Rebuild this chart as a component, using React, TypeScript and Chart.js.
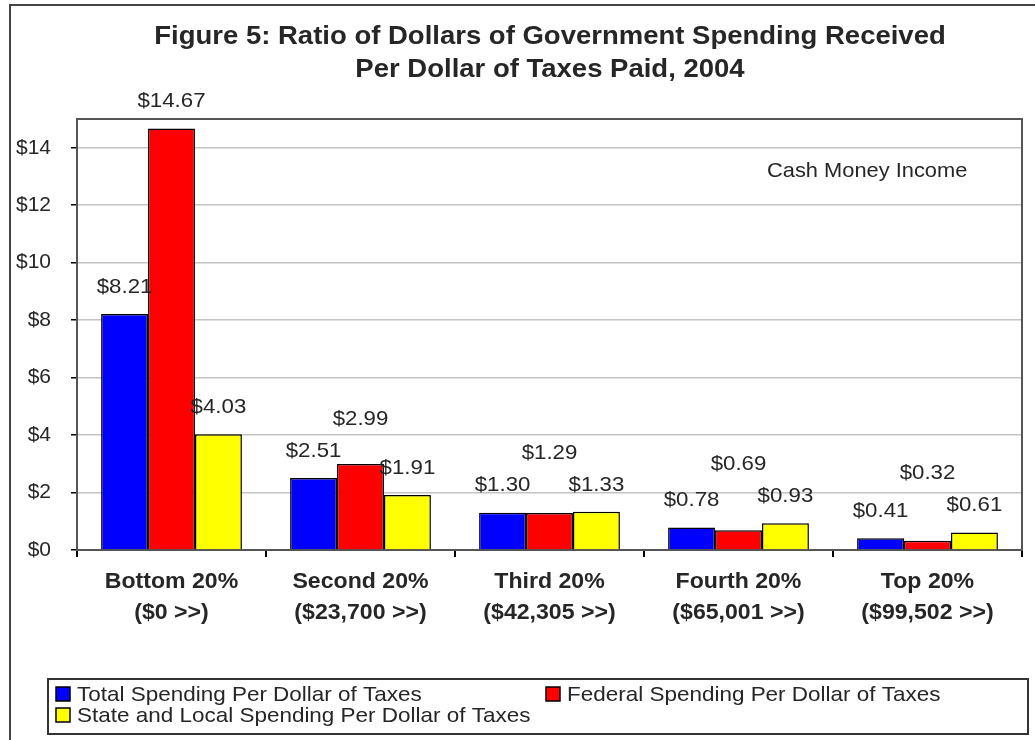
import { useRef, useEffect } from 'react'
import { Chart, registerables } from 'chart.js'
import type { ChartOptions, Plugin } from 'chart.js'

Chart.register(...registerables)

const categories = [
  ['Bottom 20%', '($0 >>)'],
  ['Second 20%', '($23,700 >>)'],
  ['Third 20%', '($42,305 >>)'],
  ['Fourth 20%', '($65,001 >>)'],
  ['Top 20%', '($99,502 >>)'],
]
const seriesNames = [
  'Total Spending Per Dollar of Taxes',
  'Federal Spending Per Dollar of Taxes',
  'State and Local Spending Per Dollar of Taxes',
]
const totalSpending = [8.21, 2.51, 1.3, 0.78, 0.41]
const federalSpending = [14.67, 2.99, 1.29, 0.69, 0.32]
const stateLocalSpending = [4.03, 1.91, 1.33, 0.93, 0.61]
const yTicks = [0, 2, 4, 6, 8, 10, 12, 14]

const titleLines = [
  'Figure 5: Ratio of Dollars of Government Spending Received',
  'Per Dollar of Taxes Paid, 2004',
]
const noteText = 'Cash Money Income'

const FONT = '"Liberation Sans", Arial, sans-serif'
const TEXT = '#262626'

// texte un peu étiré en largeur, comme l'image d'origine
function drawText(
  ctx: CanvasRenderingContext2D,
  text: string,
  x: number,
  y: number,
  font: string,
  align: CanvasTextAlign,
  sx: number,
) {
  ctx.save()
  ctx.font = font
  ctx.textAlign = align
  ctx.textBaseline = 'middle'
  ctx.translate(x, y)
  ctx.scale(sx, 1)
  ctx.fillText(text, 0, 0)
  ctx.restore()
}

const decorPlugin: Plugin<'bar'> = {
  id: 'decor',
  beforeDraw(chart) {
    const { ctx, width, height } = chart
    ctx.save()
    ctx.fillStyle = '#fff'
    ctx.fillRect(0, 0, width, height)
    ctx.strokeStyle = '#444'
    ctx.lineWidth = 2
    ctx.beginPath()
    ctx.moveTo(10, height)
    ctx.lineTo(10, 5)
    ctx.lineTo(width, 5)
    ctx.stroke()
    ctx.restore()
  },
  beforeDatasetsDraw(chart) {
    const { ctx, chartArea: a } = chart
    ctx.save()
    ctx.strokeStyle = '#555'
    ctx.lineWidth = 2
    ctx.strokeRect(a.left, a.top, a.right - a.left, a.bottom - a.top)
    ctx.restore()
  },
  afterDraw(chart) {
    const { ctx } = chart
    ctx.save()
    ctx.fillStyle = TEXT

    // titre
    const titleFont = `bold 25px ${FONT}`
    drawText(ctx, titleLines[0], 550, 37, titleFont, 'center', 1.1)
    drawText(ctx, titleLines[1], 550, 70, titleFont, 'center', 1.1)

    // note
    drawText(ctx, noteText, 767, 171, `21px ${FONT}`, 'left', 1.04)

    // catégories
    const xs = chart.scales.x
    categories.forEach((lines, i) => {
      const x = xs.getPixelForValue(i)
      lines.forEach((t, k) => {
        drawText(ctx, t, x, 582 + k * 31, `bold 22px ${FONT}`, 'center', 1.05)
      })
    })

    // étiquettes de valeurs
    const m0 = chart.getDatasetMeta(0).data
    const m1 = chart.getDatasetMeta(1).data
    const m2 = chart.getDatasetMeta(2).data
    m0.forEach((_, i) => {
      const y0 = m0[i].y - 27
      const y2 = m2[i].y - 27
      const y1 = Math.min(m1[i].y - 27, Math.min(y0, y2) - 32)
      const ys = [y0, y1, y2]
      ;[m0, m1, m2].forEach((m, d) => {
        const v = chart.data.datasets[d].data[i] as number
        drawText(ctx, '$' + v.toFixed(2), m[i].x, ys[d], `21px ${FONT}`, 'center', 1.06)
      })
    })

    // légende
    ctx.strokeStyle = '#333'
    ctx.lineWidth = 2
    ctx.strokeRect(48, 679, 980, 55)
    const pos = [
      [56, 694],
      [546, 694],
      [56, 715],
    ]
    chart.data.datasets.forEach((ds, d) => {
      const [x, y] = pos[d]
      ctx.fillStyle = ds.backgroundColor as string
      ctx.fillRect(x, y - 7, 14, 14)
      ctx.strokeStyle = '#000'
      ctx.lineWidth = 1.5
      ctx.strokeRect(x, y - 7, 14, 14)
      ctx.fillStyle = TEXT
      drawText(ctx, ds.label as string, x + 21, y + 1, `21px ${FONT}`, 'left', 1.07)
    })
    ctx.restore()
  },
}

export default function App() {
  const chartRef = useRef<HTMLCanvasElement>(null)
  const chartInstance = useRef<Chart | null>(null)

  useEffect(() => {
    if (!chartRef.current) return
    if (chartInstance.current) chartInstance.current.destroy()
    const ctx = chartRef.current.getContext('2d')
    if (!ctx) return

    const bar = { borderColor: '#000', borderWidth: 1.5, barPercentage: 1, categoryPercentage: 0.745 }

    const options: ChartOptions<'bar'> = {
      responsive: true,
      maintainAspectRatio: false,
      animation: false,
      layout: { padding: { top: 119, right: 13, left: 0, bottom: 0 } },
      plugins: {
        legend: { display: false },
        title: { display: false },
        tooltip: { enabled: false },
      },
      scales: {
        x: {
          afterFit: (s) => {
            s.height = 190
          },
          grid: {
            offset: true,
            drawOnChartArea: false,
            tickLength: 7,
            tickColor: '#000',
            lineWidth: 2,
          },
          border: { color: '#000', width: 2 },
          ticks: { display: false },
        },
        y: {
          min: 0,
          max: 15,
          afterFit: (s) => {
            s.width = 77
          },
          afterBuildTicks: (s) => {
            s.ticks = yTicks.map((v) => ({ value: v }))
          },
          grid: {
            color: '#c4c4c4',
            lineWidth: 1.5,
            tickColor: '#000',
            tickLength: 6,
          },
          border: { color: '#000', width: 2 },
          ticks: {
            color: TEXT,
            padding: 20,
            font: { family: FONT, size: 21 },
            callback: (v) => '$' + v,
          },
        },
      },
    }

    chartInstance.current = new Chart(ctx, {
      type: 'bar',
      data: {
        labels: categories,
        datasets: [
          { label: seriesNames[0], data: totalSpending, backgroundColor: '#0000ff', ...bar },
          { label: seriesNames[1], data: federalSpending, backgroundColor: '#ff0000', ...bar },
          { label: seriesNames[2], data: stateLocalSpending, backgroundColor: '#ffff00', ...bar },
        ],
      },
      options,
      plugins: [decorPlugin],
    })

    return () => {
      if (chartInstance.current) chartInstance.current.destroy()
    }
  }, [])

  return (
    <div style={{ position: 'absolute', left: 0, top: 0, width: '1035px', height: '740px' }}>
      <canvas ref={chartRef} />
    </div>
  )
}
